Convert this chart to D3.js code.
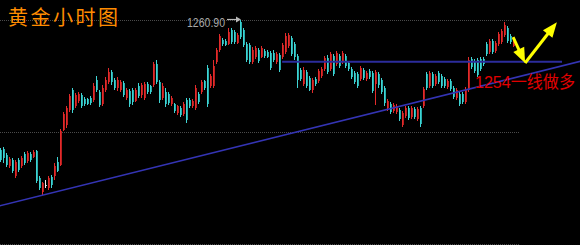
<!DOCTYPE html>
<html>
<head>
<meta charset="utf-8">
<script src="https://cdnjs.cloudflare.com/ajax/libs/d3/7.8.5/d3.min.js"></script>
<style>
  html, body { margin: 0; padding: 0; background: #000; }
  svg { display: block; }
</style>
</head>
<body>
<div class="svg"></div>
<script>
// hourly gold candles, one per bar
var openPrices = [
  1239.2, 1239.4, 1238.4, 1236.5, 1237.5, 1234.9, 1237.5, 1236.5, 1238.5, 1237.4,
  1238.5, 1238.0, 1239.0, 1234.5, 1232.2, 1233.4, 1232.9, 1234.7, 1234.9, 1237.2,
  1236.7, 1242.5, 1243.4, 1245.9, 1249.2, 1246.5, 1247.4, 1248.4, 1247.7, 1247.7,
  1247.9, 1247.5, 1250.9, 1248.9, 1246.9, 1249.2, 1250.5, 1252.2, 1250.9, 1249.5,
  1249.2, 1250.4, 1247.9, 1249.0, 1249.2, 1247.4, 1249.9, 1248.4, 1247.9, 1250.2,
  1249.9, 1250.0, 1253.5, 1250.5, 1247.9, 1248.9, 1248.5, 1246.9, 1246.9, 1245.4,
  1246.2, 1245.2, 1247.5, 1247.5, 1246.5, 1246.2, 1248.5, 1248.9, 1250.7, 1252.9,
  1249.9, 1249.9, 1253.9, 1255.9, 1257.5, 1257.4, 1256.9, 1259.2, 1258.9, 1257.0,
  1260.5, 1259.2, 1256.9, 1256.7, 1253.9, 1254.7, 1255.9, 1254.7, 1255.7, 1255.5,
  1255.4, 1255.4, 1253.9, 1255.0, 1254.7, 1255.5, 1256.5, 1257.9, 1256.9, 1254.9,
  1252.5, 1250.2, 1252.2, 1251.2, 1249.2, 1251.0, 1250.7, 1251.5, 1252.7, 1254.5,
  1252.7, 1254.9, 1253.5, 1254.9, 1253.9, 1254.9, 1253.7, 1252.7, 1252.0, 1251.9,
  1251.0, 1252.5, 1251.0, 1252.4, 1252.0, 1250.2, 1251.9, 1250.9, 1249.5, 1246.2,
  1246.9, 1245.7, 1245.5, 1245.9, 1243.4, 1244.9, 1246.2, 1244.7, 1246.0, 1244.4,
  1246.2, 1246.5, 1251.9, 1249.9, 1251.9, 1250.2, 1252.0, 1251.5, 1251.0, 1249.7,
  1250.7, 1249.5, 1247.9, 1248.5, 1248.5, 1247.2, 1249.2, 1254.4, 1254.0, 1254.2,
  1254.4, 1254.4, 1256.9, 1255.5, 1257.4, 1255.7, 1256.9, 1257.2, 1258.4, 1259.5,
  1258.2, 1256.5
];
var highPrices = [
  1239.5, 1239.7, 1238.7, 1238.0, 1237.9, 1237.5, 1237.9, 1238.2, 1238.9, 1239.0,
  1238.9, 1239.2, 1239.2, 1234.9, 1233.9, 1234.2, 1234.9, 1235.0, 1237.0, 1238.0,
  1242.7, 1245.5, 1246.5, 1248.5, 1249.5, 1248.7, 1248.9, 1248.7, 1248.0, 1247.9,
  1248.2, 1250.4, 1251.5, 1249.2, 1250.0, 1251.4, 1252.9, 1252.5, 1251.2, 1251.4,
  1250.9, 1250.7, 1249.5, 1249.4, 1249.5, 1249.5, 1250.4, 1250.4, 1250.5, 1250.5,
  1250.0, 1253.9, 1254.2, 1250.9, 1250.4, 1249.5, 1248.9, 1248.2, 1247.0, 1246.7,
  1246.5, 1247.2, 1247.9, 1247.9, 1247.7, 1250.0, 1248.9, 1250.9, 1250.9, 1253.4,
  1251.9, 1254.2, 1256.2, 1258.5, 1257.9, 1257.7, 1259.5, 1259.5, 1259.2, 1258.7,
  1260.9, 1259.5, 1257.2, 1257.0, 1256.4, 1256.5, 1256.2, 1256.5, 1256.0, 1255.9,
  1255.7, 1255.9, 1255.5, 1255.4, 1257.0, 1258.7, 1258.7, 1258.2, 1257.2, 1255.2,
  1252.9, 1253.0, 1252.5, 1251.5, 1251.2, 1251.4, 1252.7, 1253.0, 1254.9, 1255.0,
  1255.5, 1255.2, 1255.7, 1255.2, 1255.7, 1255.2, 1254.0, 1253.0, 1252.4, 1252.2,
  1253.2, 1252.9, 1252.4, 1252.7, 1252.4, 1252.5, 1252.2, 1251.2, 1249.9, 1247.7,
  1247.2, 1247.0, 1246.9, 1246.2, 1245.7, 1246.5, 1246.5, 1246.5, 1246.4, 1246.4,
  1246.5, 1249.7, 1252.2, 1252.4, 1252.2, 1251.9, 1252.4, 1251.9, 1251.4, 1251.0,
  1251.0, 1249.9, 1249.5, 1248.9, 1248.9, 1249.7, 1254.7, 1254.7, 1254.4, 1254.5,
  1254.7, 1254.7, 1257.2, 1257.7, 1257.7, 1257.4, 1258.9, 1259.4, 1260.5, 1259.9,
  1258.5, 1257.9
];
var lowPrices = [
  1237.2, 1237.0, 1236.4, 1236.2, 1235.4, 1234.5, 1235.5, 1236.2, 1236.7, 1237.0,
  1237.2, 1237.9, 1233.7, 1232.5, 1231.7, 1232.9, 1232.5, 1232.9, 1234.2, 1235.5,
  1236.5, 1242.4, 1242.9, 1245.5, 1245.4, 1246.2, 1247.0, 1246.2, 1246.5, 1246.7,
  1246.7, 1247.2, 1248.9, 1246.4, 1246.5, 1248.9, 1250.2, 1250.0, 1249.2, 1249.0,
  1248.9, 1248.0, 1247.5, 1246.4, 1246.7, 1247.2, 1247.9, 1247.9, 1247.5, 1248.5,
  1248.5, 1249.7, 1250.2, 1247.0, 1247.5, 1246.4, 1246.7, 1246.5, 1245.4, 1245.0,
  1244.7, 1244.9, 1243.7, 1246.2, 1246.2, 1245.9, 1246.9, 1248.5, 1249.2, 1246.4,
  1249.5, 1249.5, 1253.5, 1255.5, 1256.5, 1256.5, 1256.7, 1256.9, 1256.9, 1256.9,
  1257.7, 1256.4, 1253.9, 1253.5, 1253.5, 1254.4, 1253.7, 1254.5, 1254.5, 1254.5,
  1252.5, 1253.9, 1253.5, 1252.2, 1254.4, 1255.2, 1256.2, 1254.9, 1254.2, 1249.5,
  1250.7, 1249.9, 1249.5, 1249.0, 1248.7, 1249.9, 1250.4, 1251.2, 1252.4, 1251.9,
  1252.4, 1251.5, 1253.2, 1252.9, 1253.5, 1252.9, 1252.4, 1251.0, 1250.2, 1249.5,
  1250.7, 1250.9, 1250.7, 1251.0, 1248.7, 1246.7, 1249.5, 1248.5, 1246.5, 1245.7,
  1245.2, 1245.4, 1245.2, 1244.0, 1243.0, 1244.5, 1244.2, 1244.4, 1244.4, 1244.0,
  1243.0, 1246.2, 1249.2, 1249.5, 1249.5, 1249.9, 1250.2, 1249.5, 1249.5, 1249.4,
  1249.0, 1247.7, 1247.5, 1246.5, 1246.9, 1246.9, 1248.9, 1252.7, 1252.0, 1251.4,
  1252.4, 1253.2, 1254.9, 1255.2, 1255.2, 1255.4, 1256.5, 1256.9, 1258.0, 1257.0,
  1256.9, 1256.4
];
var closePrices = [
  1237.5, 1237.9, 1236.7, 1237.7, 1235.7, 1237.2, 1235.9, 1237.9, 1237.0, 1238.7,
  1237.5, 1238.9, 1234.0, 1232.9, 1233.7, 1233.4, 1234.5, 1233.4, 1236.5, 1235.7,
  1242.4, 1245.2, 1246.2, 1248.2, 1245.9, 1248.4, 1248.5, 1246.5, 1246.9, 1246.9,
  1247.0, 1249.9, 1249.2, 1246.7, 1249.5, 1250.9, 1252.2, 1250.5, 1249.5, 1250.9,
  1250.5, 1248.4, 1249.2, 1246.9, 1247.2, 1249.2, 1248.2, 1250.0, 1250.2, 1248.9,
  1248.9, 1253.5, 1250.5, 1247.5, 1249.9, 1246.9, 1247.0, 1247.9, 1245.7, 1246.5,
  1245.0, 1246.9, 1244.2, 1246.5, 1247.4, 1249.5, 1247.2, 1250.5, 1249.5, 1246.9,
  1251.5, 1253.2, 1255.9, 1258.2, 1256.9, 1256.7, 1258.9, 1257.2, 1257.2, 1258.4,
  1258.0, 1256.7, 1254.2, 1253.9, 1255.9, 1256.2, 1254.0, 1256.2, 1254.9, 1254.7,
  1252.9, 1254.2, 1255.2, 1252.5, 1256.7, 1258.2, 1258.4, 1255.2, 1254.7, 1250.9,
  1251.0, 1252.5, 1249.9, 1249.2, 1250.9, 1250.2, 1252.4, 1252.7, 1254.5, 1252.2,
  1255.2, 1251.9, 1255.4, 1253.2, 1255.4, 1253.2, 1252.7, 1251.4, 1250.5, 1249.9,
  1252.9, 1251.2, 1252.0, 1251.4, 1249.0, 1252.2, 1250.0, 1248.9, 1247.0, 1247.4,
  1245.5, 1246.7, 1246.5, 1244.4, 1245.4, 1246.2, 1244.5, 1246.2, 1244.7, 1246.0,
  1243.5, 1249.4, 1249.5, 1252.0, 1249.9, 1251.5, 1250.5, 1249.9, 1249.9, 1250.7,
  1249.4, 1248.0, 1249.2, 1246.9, 1247.2, 1249.4, 1254.2, 1253.0, 1252.4, 1251.7,
  1252.7, 1253.5, 1255.2, 1257.4, 1255.5, 1257.0, 1258.5, 1259.0, 1260.0, 1257.4,
  1257.2, 1257.5
];

// dotted grid levels
var gridPrices = [1260.9, 1242.2, 1223.5];

// annotations, in bar index / price
var highBar = 80, highLabel = "1260.90";
var supportPrice = 1253.9, supportFrom = 93.7, supportTo = 187;
var trendFrom = [-0.4, 1229.9], trendTo = [193.3, 1254.0];
var arrowPath = [[170.7, 1258.0], [174.7, 1253.7], [185.3, 1260.5]];
var titleText = "黄金小时图";
var noteText = "1254一线做多";

var width, height, x, y, svg;

var setupConfig = function () {
    width = 580;
    height = 245;
};

var setupD3 = function () {
    x = d3.scaleLinear().domain([0, 171]).range([1, 514]);
    y = d3.scaleLinear().domain([1223.4, 1264.2]).range([244.8, 0]);
};

var setupSVG = function () {
    svg = d3.select("div.svg")
        .append("svg")
        .attr("width", width)
        .attr("height", height);
    svg.append("rect")
        .attr("width", width)
        .attr("height", height)
        .attr("fill", "#000");
};

var drawGrid = function () {
    svg.selectAll("line.grid")
        .data(gridPrices)
        .enter()
        .append("line")
        .attr("class", "grid")
        .attr("x1", 0)
        .attr("x2", 520)
        .attr("y1", function (d) { return Math.round(y(d)) + 0.5; })
        .attr("y2", function (d) { return Math.round(y(d)) + 0.5; })
        .attr("stroke", "#4a4a4a")
        .attr("stroke-width", 1)
        .attr("stroke-dasharray", "1,1");
};

var drawCandles = function () {
    var n = d3.min([openPrices.length, highPrices.length, lowPrices.length, closePrices.length]);
    var bars = [];
    for (var i = 0; i < n; i++) {
        var o = openPrices[i], c = closePrices[i];
        bars.push({
            i: i, o: o, c: c,
            h: Math.max(highPrices[i], o, c),
            l: Math.min(lowPrices[i], o, c)
        });
    }
    var bodyColor = function (d) {
        return d.c > d.o ? "#b81e1e" : (d.c < d.o ? "#26aaaa" : "#c8c8c8");
    };
    var wickColor = function (d) {
        return d.c > d.o ? "#e32b2b" : (d.c < d.o ? "#40d4d4" : "#f0f0f0");
    };

    var g = svg.append("g").attr("shape-rendering", "crispEdges");
    var bar = g.selectAll("g.bar")
        .data(bars)
        .enter()
        .append("g")
        .attr("class", "bar");

    bar.append("rect")
        .attr("x", function (d) { return Math.round(x(d.i)) - 1; })
        .attr("width", 2)
        .attr("y", function (d) { return y(Math.max(d.o, d.c)); })
        .attr("height", function (d) { return Math.max(1, Math.abs(y(d.o) - y(d.c))); })
        .attr("fill", bodyColor);

    bar.append("rect")
        .attr("x", function (d) { return Math.round(x(d.i)) - 1; })
        .attr("width", 1)
        .attr("y", function (d) { return y(d.h); })
        .attr("height", function (d) { return Math.max(1, y(d.l) - y(d.h)); })
        .attr("fill", wickColor);
};

var drawLines = function () {
    // support level
    svg.append("line")
        .attr("x1", x(supportFrom))
        .attr("x2", x(supportTo))
        .attr("y1", y(supportPrice))
        .attr("y2", y(supportPrice))
        .attr("stroke", "#2c2c9c")
        .attr("stroke-width", 2);

    // rising trend line
    svg.append("line")
        .attr("x1", x(trendFrom[0]))
        .attr("y1", y(trendFrom[1]))
        .attr("x2", x(trendTo[0]))
        .attr("y2", y(trendTo[1]))
        .attr("stroke", "#3434b4")
        .attr("stroke-width", 1.6);
};

// line from a to b with a filled head at b
var drawArrow = function (ax, ay, bx, by, color, lw, headLen, headHalf) {
    var dx = bx - ax, dy = by - ay;
    var len = Math.sqrt(dx * dx + dy * dy);
    var ux = dx / len, uy = dy / len;
    var baseX = bx - ux * headLen, baseY = by - uy * headLen;
    svg.append("line")
        .attr("x1", ax).attr("y1", ay)
        .attr("x2", baseX + ux).attr("y2", baseY + uy)
        .attr("stroke", color)
        .attr("stroke-width", lw);
    svg.append("polygon")
        .attr("points", [
            [bx, by],
            [baseX - uy * headHalf, baseY + ux * headHalf],
            [baseX + uy * headHalf, baseY - ux * headHalf]
        ].map(function (p) { return p.join(","); }).join(" "))
        .attr("fill", color);
};

var drawAnnotations = function () {
    // high marker
    var hx = x(highBar), hy = Math.round(y(highPrices[highBar])) - 0.5;
    svg.append("text")
        .attr("x", hx - 16)
        .attr("y", hy + 7)
        .attr("text-anchor", "end")
        .attr("font-family", "Liberation Sans, Arial, sans-serif")
        .attr("font-size", 13.5)
        .attr("textLength", 38)
        .attr("lengthAdjust", "spacingAndGlyphs")
        .attr("fill", "#a8a8a8")
        .text(highLabel);
    drawArrow(hx - 14, hy, hx, hy, "#b8b8b8", 1.2, 5, 3);

    // yellow swing arrows
    var pts = arrowPath.map(function (p) { return [x(p[0]), y(p[1])]; });
    drawArrow(pts[0][0], pts[0][1], pts[1][0], pts[1][1], "#ffff00", 3, 15, 6);
    drawArrow(pts[1][0], pts[1][1], pts[2][0], pts[2][1], "#ffff00", 3, 15, 6);

    // title
    svg.append("text")
        .attr("x", 8)
        .attr("y", 25)
        .attr("font-family", "Noto Sans CJK SC, sans-serif")
        .attr("font-size", 20)
        .attr("letter-spacing", 2.5)
        .attr("fill", "#ff8c00")
        .text(titleText);

    // trade note
    svg.append("text")
        .attr("x", 475)
        .attr("y", 88)
        .attr("font-family", "Liberation Sans, Noto Sans CJK SC, sans-serif")
        .attr("font-size", 16.5)
        .attr("textLength", 100)
        .attr("lengthAdjust", "spacingAndGlyphs")
        .attr("fill", "#e00000")
        .text(noteText);
};

setupConfig();
setupD3();
setupSVG();
drawGrid();
drawCandles();
drawLines();
drawAnnotations();
</script>
</body>
</html>
